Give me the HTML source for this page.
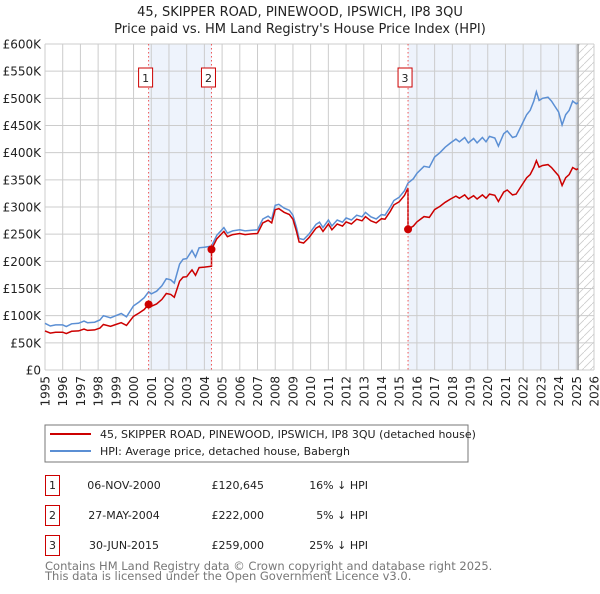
<!DOCTYPE html>
<html><head><meta charset="utf-8"><style>
body{margin:0;background:#fff;font-family:"DejaVu Sans","Liberation Sans",sans-serif;}
svg text{font-family:"DejaVu Sans","Liberation Sans",sans-serif;}
</style></head><body>
<svg id="c" width="600" height="590" viewBox="0 0 600 590">
<text x="300" y="16" text-anchor="middle" font-size="13" fill="#222">45, SKIPPER ROAD, PINEWOOD, IPSWICH, IP8 3QU</text>
<text x="300" y="33" text-anchor="middle" font-size="13" fill="#222">Price paid vs. HM Land Registry's House Price Index (HPI)</text>
<g id="plot"></g>
<rect x="45" y="425" width="423" height="37" fill="#fff" stroke="#777"/>
<line x1="50" y1="434" x2="91" y2="434" stroke="#cc0000" stroke-width="2"/>
<text x="100" y="438" font-size="11" fill="#222">45, SKIPPER ROAD, PINEWOOD, IPSWICH, IP8 3QU (detached house)</text>
<line x1="50" y1="451" x2="91" y2="451" stroke="#5b8fd4" stroke-width="2"/>
<text x="100" y="455" font-size="11" fill="#222">HPI: Average price, detached house, Babergh</text>
<g id="tbl"></g>
<text x="45" y="570" font-size="11.5" fill="#777">Contains HM Land Registry data © Crown copyright and database right 2025.</text>
<text x="45" y="580" font-size="11.5" fill="#777">This data is licensed under the Open Government Licence v3.0.</text>
</svg>
<script>
const hpiYears=[1995.0,1995.3,1995.6,1996.0,1996.2,1996.5,1996.9,1997.2,1997.4,1997.8,1998.1,1998.3,1998.7,1999.0,1999.3,1999.6,2000.0,2000.3,2000.6,2000.85,2001.0,2001.3,2001.6,2001.85,2002.1,2002.3,2002.6,2002.8,2003.0,2003.2,2003.3,2003.5,2003.7,2004.0,2004.4,2004.7,2004.9,2005.1,2005.3,2005.6,2006.0,2006.3,2006.6,2007.0,2007.3,2007.6,2007.8,2008.0,2008.2,2008.5,2008.8,2009.0,2009.2,2009.35,2009.6,2009.9,2010.3,2010.5,2010.7,2011.0,2011.2,2011.5,2011.8,2012.0,2012.3,2012.6,2012.9,2013.1,2013.4,2013.7,2014.0,2014.2,2014.5,2014.7,2015.0,2015.3,2015.5,2015.8,2016.0,2016.4,2016.7,2017.0,2017.3,2017.6,2017.9,2018.2,2018.4,2018.7,2018.9,2019.2,2019.4,2019.7,2019.9,2020.1,2020.4,2020.6,2020.9,2021.1,2021.4,2021.6,2021.9,2022.2,2022.4,2022.6,2022.75,2022.9,2023.1,2023.4,2023.6,2023.8,2024.0,2024.2,2024.4,2024.6,2024.8,2025.0,2025.1];
const hpiValues=[86,81,83,83,80,85,86,90,87,88,92,100,96,100,104,98,118,125,133,144,140,145,155,168,166,160,195,204,205,215,220,208,225,226,228,248,255,262,252,256,258,256,257,258,278,283,278,303,305,298,294,285,262,242,240,250,268,272,262,276,265,276,272,280,276,285,282,290,282,278,286,285,300,312,318,330,344,352,362,375,373,392,400,410,418,425,420,428,418,426,418,428,420,430,427,412,435,440,428,430,450,470,478,495,512,496,500,502,495,485,475,451,470,478,495,490,492];
const saleYears=[2000.85,2004.4,2015.5];
const salePrices=[120.645,222,259];
const saleLabels=["1","2","3"];
const saleDates=["06-NOV-2000","27-MAY-2004","30-JUN-2015"];
const salePriceText=["£120,645","£222,000","£259,000"];
const salePctText=["16% ↓ HPI","5% ↓ HPI","25% ↓ HPI"];
const yTicks=[0,50,100,150,200,250,300,350,400,450,500,550,600];
const yTickLabels=["£0","£50K","£100K","£150K","£200K","£250K","£300K","£350K","£400K","£450K","£500K","£550K","£600K"];
const xTicks=[1995,1996,1997,1998,1999,2000,2001,2002,2003,2004,2005,2006,2007,2008,2009,2010,2011,2012,2013,2014,2015,2016,2017,2018,2019,2020,2021,2022,2023,2024,2025,2026];
const dataEnd=2025.1;

const NS="http://www.w3.org/2000/svg";
const L=45,R=594,T=44,B=370;
const xS=y=>L+(y-1995)/(2026-1995)*(R-L);
const yS=v=>B-v/600*(B-T);
function mk(tag,attrs,parent){const e=document.createElementNS(NS,tag);for(const k in attrs)e.setAttribute(k,attrs[k]);parent.appendChild(e);return e;}
const g=document.getElementById('plot');
function hpiAt(y){for(let i=1;i<hpiYears.length;i++){if(y<=hpiYears[i]){const t=(y-hpiYears[i-1])/(hpiYears[i]-hpiYears[i-1]);return hpiValues[i-1]+t*(hpiValues[i]-hpiValues[i-1]);}}return hpiValues[hpiValues.length-1];}

// defs hatch
const defs=mk('defs',{},g);
const pat=mk('pattern',{id:'hatch',width:8,height:8,patternUnits:'userSpaceOnUse'},defs);
mk('path',{d:'M0,8 L8,0',stroke:'#ccc','stroke-width':0.8},pat);

// shading
const sh1=mk('rect',{x:xS(saleYears[0]),y:T,width:xS(saleYears[1])-xS(saleYears[0]),height:B-T,fill:'#eef3fc'},g);


const sh2=mk('rect',{x:xS(saleYears[2]),y:T,width:xS(dataEnd)-xS(saleYears[2]),height:B-T,fill:'#eef3fc'},g);


const hz=mk('rect',{x:xS(dataEnd),y:T,width:R-xS(dataEnd),height:B-T,fill:'url(#hatch)'},g);



// grid
yTicks.forEach((v,i)=>{
  const ln=mk('line',{x1:L,x2:R,y1:yS(v),y2:yS(v),stroke:'#ccc','stroke-width':1},g);
  
  
  const t=mk('text',{x:L-4,y:yS(v)+4.5,'text-anchor':'end','font-size':12,fill:'#222'},g);
  t.textContent=yTickLabels[i];
  
  
});
xTicks.forEach(yr=>{
  const ln=mk('line',{x1:xS(yr),x2:xS(yr),y1:T,y2:B,stroke:'#ccc','stroke-width':1},g);
  
  
  const t=mk('text',{x:0,y:0,'text-anchor':'end','font-size':12,fill:'#222',transform:`translate(${xS(yr)+4.5},${B+6}) rotate(-90)`},g);
  t.textContent=yr;
  
  
});
const el=mk('line',{x1:xS(dataEnd),x2:xS(dataEnd),y1:T,y2:B,stroke:'#999','stroke-width':1.5},g);



// HPI line
let d='';hpiYears.forEach((y,i)=>{d+=(i?'L':'M')+xS(y).toFixed(1)+','+yS(hpiValues[i]).toFixed(1);});
const hp=mk('path',{d:d,fill:'none',stroke:'#5b8fd4','stroke-width':1.5},g);



// price line: HPI indexed from each sale
const ratios=saleYears.map((y,i)=>salePrices[i]/hpiAt(y));
function ratioFor(y){let r=ratios[0];for(let i=0;i<saleYears.length;i++)if(y>=saleYears[i])r=ratios[i];return r;}
const pts=[];
const allY=[...hpiYears];
hpiYears.forEach((y,i)=>pts.push([y,hpiValues[i]*ratioFor(y)]));
saleYears.forEach((y,i)=>{pts.push([y-0.001,hpiAt(y)*(i?ratios[i-1]:ratios[0])]);pts.push([y,salePrices[i]]);});
pts.sort((a,b)=>a[0]-b[0]);
d='';pts.forEach((p,i)=>{d+=(i?'L':'M')+xS(p[0]).toFixed(1)+','+yS(p[1]).toFixed(1);});
const pp=mk('path',{d:d,fill:'none',stroke:'#cc0000','stroke-width':1.5},g);



// sale markers
saleYears.forEach((y,i)=>{
  const vl=mk('line',{x1:xS(y),x2:xS(y),y1:T,y2:B,stroke:'#ee5555','stroke-width':1,'stroke-dasharray':'1.5,2.5'},g);
  
  
  const bx=mk('rect',{x:xS(y)-10,y:68,width:14,height:19,fill:'#fff',stroke:'#cc0000'},g);
  
  
  const bt=mk('text',{x:xS(y)-3,y:82,'text-anchor':'middle','font-size':11,fill:'#222'},g);
  bt.textContent=saleLabels[i];
  
  
  const c=mk('circle',{cx:xS(y),cy:yS(salePrices[i]),r:4,fill:'#cc0000'},g);
  
  
});

// table
const tb=document.getElementById('tbl');
saleLabels.forEach((lab,i)=>{
  const yy=475+i*30;
  const r=mk('rect',{x:45.5,y:yy+0.5,width:14,height:20,fill:'#fff',stroke:'#cc0000'},tb);
  
  
  const n=mk('text',{x:52.5,y:yy+14,'text-anchor':'middle','font-size':11,fill:'#222'},tb);
  n.textContent=lab;
  
  
  const dt=mk('text',{x:124,y:yy+14,'text-anchor':'middle','font-size':11,fill:'#222'},tb);
  dt.textContent=saleDates[i];
  
  
  const pr=mk('text',{x:264,y:yy+14,'text-anchor':'end','font-size':11,fill:'#222'},tb);
  pr.textContent=salePriceText[i];
  
  
  const pc=mk('text',{x:368,y:yy+14,'text-anchor':'end','font-size':11,fill:'#222'},tb);
  pc.textContent=salePctText[i];
  
  
});
</script>
</body></html>
